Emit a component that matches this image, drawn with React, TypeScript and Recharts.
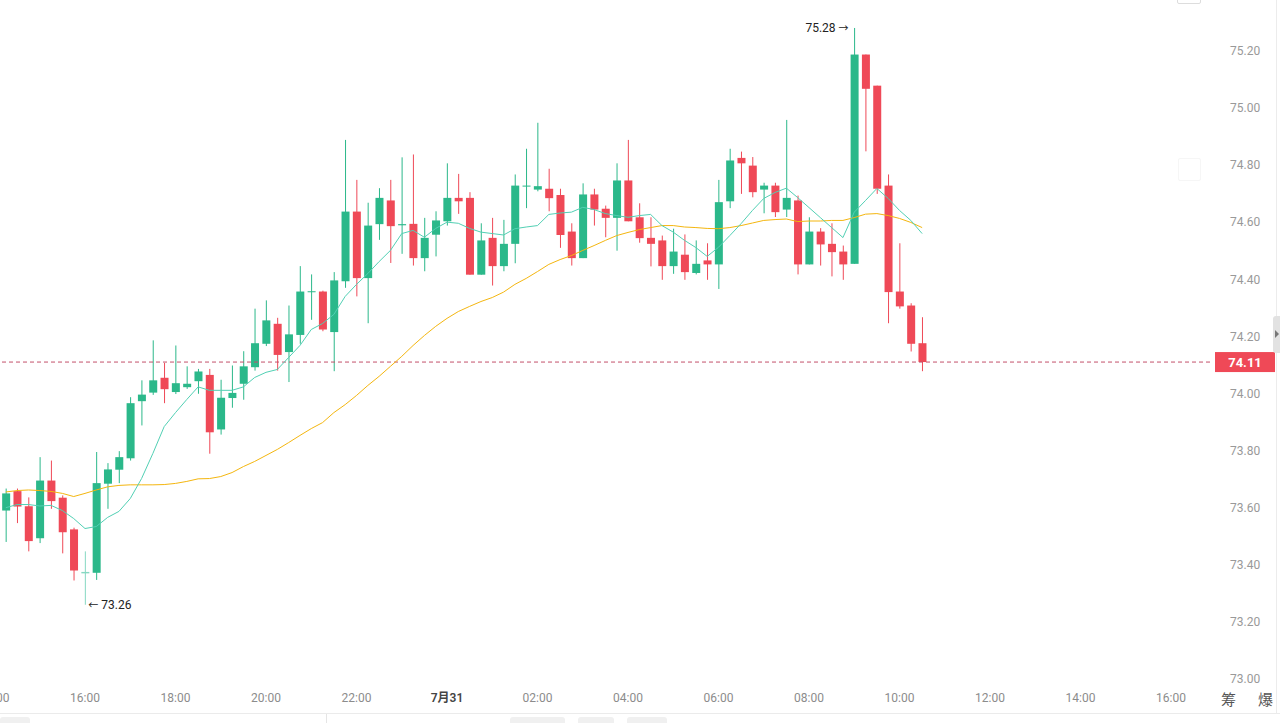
import { ComposedChart, Bar, Line, XAxis, YAxis, ReferenceLine } from "recharts";

// 15-minute candles, 7/30 14:15 -> 7/31 10:30
const times = [
  "14:15", "14:30", "14:45", "15:00", "15:15", "15:30", "15:45", "16:00", "16:15", "16:30", "16:45",
  "17:00", "17:15", "17:30", "17:45", "18:00", "18:15", "18:30", "18:45", "19:00", "19:15", "19:30",
  "19:45", "20:00", "20:15", "20:30", "20:45", "21:00", "21:15", "21:30", "21:45", "22:00", "22:15",
  "22:30", "22:45", "23:00", "23:15", "23:30", "23:45", "00:00", "00:15", "00:30", "00:45", "01:00",
  "01:15", "01:30", "01:45", "02:00", "02:15", "02:30", "02:45", "03:00", "03:15", "03:30", "03:45",
  "04:00", "04:15", "04:30", "04:45", "05:00", "05:15", "05:30", "05:45", "06:00", "06:15", "06:30",
  "06:45", "07:00", "07:15", "07:30", "07:45", "08:00", "08:15", "08:30", "08:45", "09:00", "09:15",
  "09:30", "09:45", "10:00", "10:15", "10:30",
];

const opens = [
  73.59, 73.658, 73.605, 73.493, 73.695, 73.635, 73.524, 73.37, 73.372, 73.684, 73.733,
  73.773, 73.973, 74.003, 74.055, 74.005, 74.022, 74.043, 74.065, 73.874, 73.984, 74.034,
  74.092, 74.174, 74.244, 74.145, 74.205, 74.355, 74.357, 74.215, 74.393, 74.637, 74.404,
  74.593, 74.676, 74.589, 74.594, 74.474, 74.556, 74.603, 74.685, 74.685, 74.416, 74.545,
  74.446, 74.524, 74.725, 74.714, 74.717, 74.695, 74.567, 74.474, 74.697, 74.647, 74.615,
  74.746, 74.617, 74.545, 74.536, 74.446, 74.486, 74.422, 74.466, 74.452, 74.673, 74.825,
  74.798, 74.714, 74.728, 74.644, 74.676, 74.452, 74.567, 74.524, 74.497, 74.454, 75.187,
  75.078, 74.728, 74.357, 74.308, 74.176,
];
const highs = [
  73.667, 73.667, 73.636, 73.777, 73.765, 73.643, 73.53, 73.447, 73.795, 73.756, 73.798,
  73.987, 74.046, 74.186, 74.107, 74.168, 74.095, 74.086, 74.086, 74.048, 74.098, 74.148,
  74.297, 74.326, 74.265, 74.308, 74.446, 74.417, 74.36, 74.425, 74.888, 74.748, 74.668,
  74.719, 74.748, 74.827, 74.837, 74.615, 74.638, 74.806, 74.769, 74.705, 74.596, 74.615,
  74.608, 74.767, 74.857, 74.948, 74.787, 74.717, 74.596, 74.736, 74.717, 74.658, 74.806,
  74.888, 74.666, 74.617, 74.553, 74.577, 74.557, 74.536, 74.526, 74.748, 74.857, 74.847,
  74.828, 74.738, 74.738, 74.958, 74.693, 74.617, 74.579, 74.596, 74.518, 75.28, 75.187,
  75.078, 74.767, 74.526, 74.316, 74.267,
];
const lows = [
  73.48, 73.546, 73.447, 73.476, 73.596, 73.44, 73.345, 73.26, 73.347, 73.596, 73.686,
  73.765, 73.888, 73.995, 73.966, 73.998, 74.016, 73.999, 73.789, 73.856, 73.95, 73.978,
  74.08, 74.166, 74.08, 74.04, 74.174, 74.258, 74.218, 74.078, 74.37, 74.34, 74.246,
  74.538, 74.457, 74.489, 74.448, 74.428, 74.48, 74.588, 74.629, 74.416, 74.416, 74.378,
  74.428, 74.456, 74.649, 74.708, 74.638, 74.51, 74.448, 74.474, 74.588, 74.547, 74.5,
  74.603, 74.528, 74.445, 74.398, 74.419, 74.398, 74.417, 74.398, 74.366, 74.649, 74.699,
  74.687, 74.631, 74.618, 74.618, 74.417, 74.452, 74.448, 74.41, 74.398, 74.454, 74.848,
  74.699, 74.246, 74.297, 74.147, 74.078,
];
const closes = [
  73.65, 73.604, 73.483, 73.695, 73.623, 73.514, 73.38, 73.375, 73.686, 73.734, 73.777,
  73.966, 73.996, 74.046, 74.015, 74.036, 74.034, 74.077, 73.864, 73.985, 74.002, 74.095,
  74.176, 74.256, 74.135, 74.207, 74.357, 74.358, 74.224, 74.396, 74.637, 74.404, 74.588,
  74.685, 74.586, 74.593, 74.474, 74.545, 74.606, 74.685, 74.673, 74.416, 74.536, 74.446,
  74.524, 74.728, 74.728, 74.726, 74.684, 74.555, 74.474, 74.697, 74.644, 74.615, 74.746,
  74.603, 74.544, 74.524, 74.446, 74.497, 74.425, 74.454, 74.452, 74.67, 74.816, 74.806,
  74.705, 74.728, 74.635, 74.685, 74.452, 74.567, 74.522, 74.495, 74.452, 75.187, 75.067,
  74.717, 74.355, 74.305, 74.174, 74.11,
];

const maFast = [
  73.6, 73.611, 73.611, 73.606, 73.608, 73.59, 73.562, 73.527, 73.534, 73.566, 73.587,
  73.632, 73.702, 73.79, 73.884, 73.933, 73.979, 74.023, 74.011, 74.011, 74.011, 74.023,
  74.056, 74.074, 74.084, 74.126, 74.168, 74.224, 74.245, 74.277, 74.34, 74.382, 74.42,
  74.462, 74.501, 74.56, 74.571, 74.547, 74.578, 74.6, 74.596, 74.578, 74.565, 74.56,
  74.555, 74.577, 74.583, 74.588, 74.627, 74.632, 74.635, 74.652, 74.644, 74.63, 74.623,
  74.617, 74.623, 74.627, 74.588, 74.565, 74.536, 74.511, 74.48, 74.512, 74.553, 74.595,
  74.641, 74.683, 74.704, 74.719, 74.686, 74.651, 74.616, 74.581, 74.546, 74.635, 74.676,
  74.718, 74.683, 74.641, 74.606, 74.56,
];
const maSlow = [
  73.655, 73.66, 73.662, 73.66, 73.657, 73.65, 73.639, 73.65, 73.662, 73.673, 73.678,
  73.68, 73.68, 73.68, 73.681, 73.685, 73.692, 73.701, 73.702, 73.709, 73.723, 73.744,
  73.762, 73.783, 73.804, 73.828, 73.853, 73.877, 73.898, 73.933, 73.961, 73.993, 74.028,
  74.06, 74.095, 74.13, 74.168, 74.203, 74.235, 74.263, 74.287, 74.305, 74.322, 74.336,
  74.355, 74.382, 74.403, 74.427, 74.452, 74.469, 74.483, 74.501, 74.518, 74.536, 74.553,
  74.564, 74.574, 74.581, 74.588, 74.588, 74.583, 74.581, 74.578, 74.577, 74.581, 74.588,
  74.597, 74.606, 74.609, 74.611, 74.602, 74.604, 74.604, 74.606, 74.606, 74.616, 74.628,
  74.63, 74.623, 74.613, 74.599, 74.581,
];

const tickTimes = ["14:00", "16:00", "18:00", "20:00", "22:00", "00:00", "02:00", "04:00", "06:00", "08:00", "10:00", "12:00", "14:00", "16:00"];
const tickLabels = ["14:00", "16:00", "18:00", "20:00", "22:00", "7月31", "02:00", "04:00", "06:00", "08:00", "10:00", "12:00", "14:00", "16:00"];
const priceTicks = [73.0, 73.2, 73.4, 73.6, 73.8, 74.0, 74.2, 74.4, 74.6, 74.8, 75.0, 75.2];
const lastPrice = 74.11;

const UP = "#2bb88a";
const DOWN = "#ef4957";
const FONT = "Roboto, 'Noto Sans CJK SC', sans-serif";

// "HH:MM" list -> minutes since 7/30 00:00, rolling over midnight
function toMinutes(list: string[]) {
  let day = 0;
  let prev = -1;
  return list.map((s) => {
    const [h, m] = s.split(":").map(Number);
    const v = h * 60 + m;
    if (v < prev) day += 1;
    prev = v;
    return day * 1440 + v;
  });
}

const candleMinutes = toMinutes(times);
const tickMinutes = toMinutes(tickTimes);
const maxHigh = Math.max(...highs);
const minLow = Math.min(...lows);

const data = times.map((_, i) => ({
  t: candleMinutes[i],
  range: [lows[i], highs[i]],
  open: opens[i],
  high: highs[i],
  low: lows[i],
  close: closes[i],
  maFast: maFast[i],
  maSlow: maSlow[i],
}));

const Candle = (props: any) => {
  const { x, y, width, height, payload } = props;
  if (x == null || y == null || !payload) return null;
  const top = Math.min(y, y + height);
  const bot = Math.max(y, y + height);
  const { open, close, high, low } = payload;
  const span = high - low || 1;
  const toY = (v: number) => top + ((high - v) / span) * (bot - top);
  const up = close >= open;
  let color = up ? UP : DOWN;
  if (low === minLow) color = "#86d8c2";
  const cx = x + width / 2;
  const bTop = toY(Math.max(open, close));
  const bBot = toY(Math.min(open, close));
  return (
    <g>
      <line x1={cx} x2={cx} y1={top} y2={bot} stroke={color} strokeWidth={1} />
      <rect x={x} y={bTop} width={width} height={Math.max(1, bBot - bTop)} fill={color} />
      {high === maxHigh && (
        <text x={cx - 6} y={top} textAnchor="end" dominantBaseline="central" fontSize={12} fill="#222" fontFamily={FONT}>
          {high.toFixed(2)} <tspan fontSize={10}>→</tspan>
        </text>
      )}
      {low === minLow && (
        <text x={cx + 3} y={bot} textAnchor="start" dominantBaseline="central" fontSize={12} fill="#222" fontFamily={FONT}>
          <tspan fontSize={10}>←</tspan> {low.toFixed(2)}
        </text>
      )}
    </g>
  );
};

const TimeTick = (props: any) => {
  const { x, y, index } = props;
  const label = tickLabels[index];
  const isDate = label.includes("月");
  return (
    <text
      x={x}
      y={y + 5}
      textAnchor="middle"
      dominantBaseline="central"
      fontSize={12}
      fontFamily={FONT}
      fill={isDate ? "#444" : "#8c8c8c"}
      fontWeight={isDate ? 600 : 400}
    >
      {label}
    </text>
  );
};

const PriceTag = (props: any) => {
  const { viewBox } = props;
  if (!viewBox) return null;
  const bx = viewBox.x + viewBox.width + 5;
  const cy = viewBox.y;
  return (
    <g>
      <rect x={bx} y={cy - 10} width={60} height={20} fill="#ef4957" />
      <text x={bx + 30} y={cy} textAnchor="middle" dominantBaseline="central" fontSize={13} fontWeight={700} fill="#fff" fontFamily={FONT}>
        {lastPrice.toFixed(2)}
      </text>
    </g>
  );
};

export default function App() {
  return (
    <div style={{ position: "fixed", left: 0, top: 0, width: 1280, height: 723, overflow: "hidden", background: "#fff" }}>
      <div style={{ position: "absolute", left: -40, top: 0 }}>
        <ComposedChart width={1320} height={715} data={data} margin={{ top: 0, right: 0, left: 0, bottom: 0 }}>
          <XAxis
            dataKey="t"
            type="number"
            domain={[794.25, 2451.7]}
            allowDataOverflow
            ticks={tickMinutes}
            interval={0}
            axisLine={false}
            tickLine={false}
            height={30}
            tick={<TimeTick />}
          />
          <YAxis
            orientation="right"
            type="number"
            domain={[72.979, 75.378]}
            allowDataOverflow
            ticks={priceTicks}
            interval={0}
            width={70}
            axisLine={false}
            tickLine={false}
            tickSize={6}
            tickMargin={14}
            tickFormatter={(v: number) => v.toFixed(2)}
            tick={{ fill: "#999", fontSize: 12, fontFamily: FONT }}
          />
          <ReferenceLine y={lastPrice} stroke="#c4506a" strokeDasharray="4 3" label={<PriceTag />} />
          <Bar dataKey="range" barSize={8} shape={<Candle />} isAnimationActive={false} />
          <Line type="linear" dataKey="maSlow" stroke="#f4b60f" strokeWidth={1} dot={false} activeDot={false} isAnimationActive={false} />
          <Line type="linear" dataKey="maFast" stroke="#52d0b4" strokeWidth={1} dot={false} activeDot={false} isAnimationActive={false} />
        </ComposedChart>
      </div>

      {/* right-hand UI bits */}
      <div style={{ position: "absolute", left: 1276, top: 0, width: 1, height: 713, background: "#ececec" }} />
      <div style={{ position: "absolute", left: 1273, top: 316, width: 7, height: 37, background: "#e2e2e2", borderRadius: "3px 0 0 3px" }}>
        <div style={{ position: "absolute", left: 2, top: 14, width: 0, height: 0, borderTop: "4px solid transparent", borderBottom: "4px solid transparent", borderLeft: "4px solid #777" }} />
      </div>
      <div style={{ position: "absolute", left: 1177, top: -10, width: 22, height: 12, border: "1px solid #ddd", borderRadius: 2 }} />
      <div style={{ position: "absolute", left: 1178, top: 158, width: 21, height: 21, border: "1px solid #f6f6f6", borderRadius: 2 }} />
      <div style={{ position: "absolute", left: 1221, top: 690, fontSize: 15, color: "#555", fontFamily: FONT, lineHeight: "20px" }}>筹</div>
      <div style={{ position: "absolute", left: 1258, top: 690, fontSize: 15, color: "#555", fontFamily: FONT, lineHeight: "20px" }}>爆</div>

      {/* bottom toolbar edge */}
      <div style={{ position: "absolute", left: 0, top: 713, width: 1280, height: 1, background: "#ebebeb" }} />
      <div style={{ position: "absolute", left: 326, top: 714, width: 1, height: 9, background: "#e5e5e5" }} />
      <div style={{ position: "absolute", left: 0, top: 717, width: 30, height: 10, background: "#f0f0f0", borderRadius: 3 }} />
      <div style={{ position: "absolute", left: 510, top: 717, width: 55, height: 10, background: "#f0f0f0", borderRadius: 3 }} />
      <div style={{ position: "absolute", left: 578, top: 717, width: 36, height: 10, background: "#f0f0f0", borderRadius: 3 }} />
      <div style={{ position: "absolute", left: 627, top: 717, width: 40, height: 10, background: "#f0f0f0", borderRadius: 3 }} />
    </div>
  );
}
